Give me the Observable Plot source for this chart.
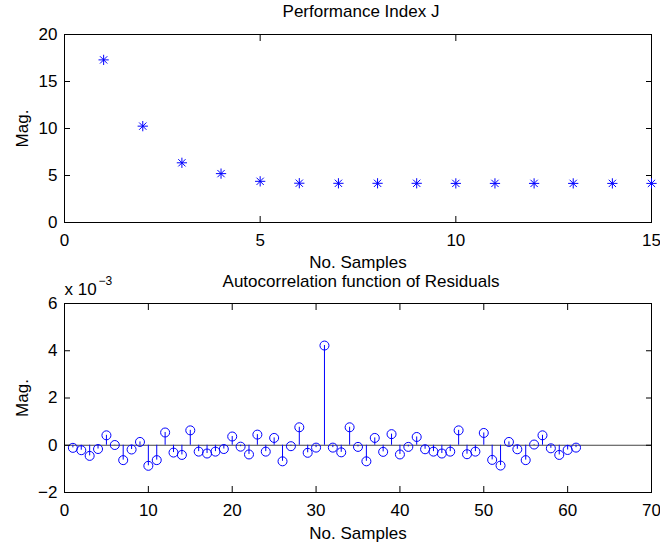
<!DOCTYPE html>
<html>
<head>
<meta charset="utf-8">
<script src="https://cdn.jsdelivr.net/npm/d3@7"></script>
<script src="https://cdn.jsdelivr.net/npm/@observablehq/plot@0.6"></script>
<style>
  html, body { margin: 0; padding: 0; background: #fff; }
  #chart svg { display: block; }
</style>
</head>
<body>
<div id="chart"></div>
<script>
// ---- Data: Performance Index J ----
const jSamples = [1, 2, 3, 4, 5, 6, 7, 8, 9, 10, 11, 12, 13, 14, 15];
const jValues  = [17.3, 10.25, 6.35, 5.2, 4.38, 4.18, 4.17, 4.17, 4.17, 4.16, 4.16, 4.16, 4.16, 4.16, 4.16];
const jXTicks = [0, 5, 10, 15];
const jYTicks = [0, 5, 10, 15, 20];

// ---- Data: Autocorrelation of residuals (units of 1e-3) ----
const acfLags = [1,2,3,4,5,6,7,8,9,10,11,12,13,14,15,16,17,18,19,20,21,22,23,24,25,26,27,28,29,30,
                 31,32,33,34,35,36,37,38,39,40,41,42,43,44,45,46,47,48,49,50,51,52,53,54,55,56,57,58,59,60,61];
const acfValues = [-0.11,-0.21,-0.45,-0.16,0.42,0.01,-0.63,-0.18,0.14,-0.87,
                   -0.63,0.54,-0.31,-0.41,0.63,-0.27,-0.35,-0.27,-0.16,0.37,
                   -0.06,-0.39,0.45,-0.27,0.31,-0.68,-0.04,0.76,-0.32,-0.10,
                   4.22,-0.10,-0.30,0.76,-0.07,-0.68,0.31,-0.28,0.47,-0.39,
                   -0.07,0.35,-0.17,-0.27,-0.35,-0.27,0.63,-0.38,-0.27,0.52,
                   -0.62,-0.86,0.14,-0.17,-0.63,0.03,0.42,-0.13,-0.41,-0.20,-0.10];
const acfXTicks = [0, 10, 20, 30, 40, 50, 60, 70];
const acfYTicks = [-2, 0, 2, 4, 6];

const jData = jSamples.map((x, i) => ({x, y: jValues[i]}));
const acfData = acfLags.map((x, i) => ({x, y: acfValues[i]}));

const FONT = "'Liberation Sans', Arial, Helvetica, sans-serif";
const plotStyle = {fontFamily: FONT, fontSize: "17px", background: "white", color: "black", overflow: "visible"};
const BLUE = "#0000ff";

function boxTicks(xt, yt) {
  return [
    Plot.axisX({anchor: "bottom", ticks: xt, tickSize: 6, dy: -6, fill: "none", label: null}),
    Plot.axisX({anchor: "top", ticks: xt, tickSize: 6, dy: 6, fill: "none", label: null}),
    Plot.axisY({anchor: "left", ticks: yt, tickSize: 6, dx: 6, fill: "none", label: null}),
    Plot.axisY({anchor: "right", ticks: yt, tickSize: 6, dx: -6, fill: "none", label: null}),
    Plot.axisX({anchor: "bottom", ticks: xt, tickSize: 0, tickPadding: 11, label: null}),
    Plot.axisY({anchor: "left", ticks: yt, tickSize: 0, tickPadding: 7, label: null}),
    Plot.frame({stroke: "black"})
  ];
}

const mid = {textAnchor: "middle", lineAnchor: "middle"};

const topChart = Plot.plot({
  width: 660, height: 272,
  marginTop: 34, marginBottom: 50, marginLeft: 64, marginRight: 9,
  style: plotStyle,
  x: {domain: [0, 15]},
  y: {domain: [0, 20]},
  marks: [
    ...boxTicks(jXTicks, jYTicks),
    Plot.dot(jData, {x: "x", y: "y", symbol: "plus", r: 3.4, stroke: BLUE, strokeWidth: 1}),
    Plot.dot(jData, {x: "x", y: "y", symbol: "times", r: 3.4, stroke: BLUE, strokeWidth: 1}),
    Plot.text(["Performance Index J"], {...mid, frameAnchor: "top", dy: -23, dx: 3}),
    Plot.text(["No. Samples"], {...mid, frameAnchor: "bottom", dy: 40}),
    Plot.text(["Mag."], {...mid, frameAnchor: "left", rotate: -90, dx: -42})
  ]
});

const bottomChart = Plot.plot({
  width: 660, height: 272,
  marginTop: 31, marginBottom: 52, marginLeft: 64, marginRight: 9,
  style: plotStyle,
  x: {domain: [0, 70]},
  y: {domain: [-2, 6]},
  marks: [
    Plot.ruleY([0], {stroke: "#444", strokeWidth: 1}),
    Plot.ruleX(acfData, {x: "x", y1: 0, y2: "y", stroke: BLUE, strokeWidth: 1}),
    Plot.dot(acfData, {x: "x", y: "y", r: 4.5, stroke: BLUE, strokeWidth: 1, fill: "none"}),
    ...boxTicks(acfXTicks, acfYTicks),
    Plot.text(["Autocorrelation function of Residuals"], {...mid, frameAnchor: "top", dy: -22, dx: 3}),
    Plot.text(["No. Samples"], {...mid, frameAnchor: "bottom", dy: 41}),
    Plot.text(["Mag."], {...mid, frameAnchor: "left", rotate: -90, dx: -42}),
    Plot.text(["x 10"], {frameAnchor: "top-left", textAnchor: "start", lineAnchor: "middle", dy: -14}),
    Plot.text(["\u22123"], {frameAnchor: "top-left", textAnchor: "start", lineAnchor: "middle", dx: 34, dy: -22, fontSize: 12})
  ]
});

const el = document.getElementById("chart");
el.appendChild(topChart);
el.appendChild(bottomChart);
</script>
</body>
</html>
